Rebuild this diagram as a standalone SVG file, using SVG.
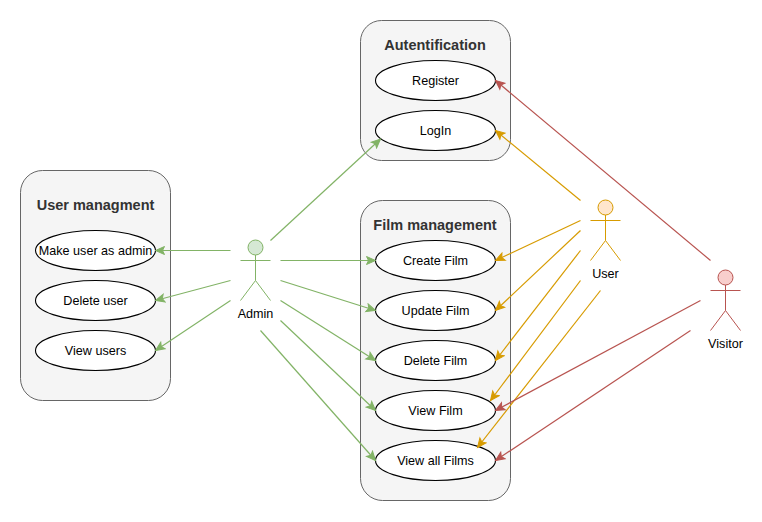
<svg xmlns="http://www.w3.org/2000/svg" width="762" height="522" viewBox="0 0 762 522">
<defs>
<marker id="ag" markerUnits="userSpaceOnUse" markerWidth="13" markerHeight="11" refX="10" refY="5.5" orient="auto"><path d="M1 1.5L10 5.5L1 9.5L3 5.5Z" fill="#82b366" stroke="#82b366"/></marker>
<marker id="ao" markerUnits="userSpaceOnUse" markerWidth="13" markerHeight="11" refX="10" refY="5.5" orient="auto"><path d="M1 1.5L10 5.5L1 9.5L3 5.5Z" fill="#d79b00" stroke="#d79b00"/></marker>
<marker id="ar" markerUnits="userSpaceOnUse" markerWidth="13" markerHeight="11" refX="10" refY="5.5" orient="auto"><path d="M1 1.5L10 5.5L1 9.5L3 5.5Z" fill="#b85450" stroke="#b85450"/></marker>
</defs>
<style>
text{font-family:"Liberation Sans",Arial,Helvetica,sans-serif;text-anchor:middle;fill:#000;font-size:12.6px}
.box{fill:#f5f5f5;stroke:#666666;stroke-width:1}
text.title{font-size:14.5px;font-weight:bold;fill:#333333}
.uc{fill:#ffffff;stroke:#000000;stroke-width:1.1}
.e{fill:none;stroke-width:1.2}
.g{stroke:#82b366;marker-end:url(#ag)}
.o{stroke:#d79b00;marker-end:url(#ao)}
.r{stroke:#b85450;marker-end:url(#ar)}
.ag{fill:none;stroke:#82b366}.ag circle{fill:#d5e8d4}
.ao{fill:none;stroke:#d79b00}.ao circle{fill:#ffe6cc}
.ar{fill:none;stroke:#b85450}.ar circle{fill:#f8cecc}
</style>
<g id="user-managment"><rect class="box" x="20.5" y="170.5" width="150" height="230" rx="22" ry="22"/><text class="title" x="95.5" y="210">User managment</text></g>
<g id="autentification"><rect class="box" x="360.5" y="20.5" width="150" height="140" rx="21" ry="21"/><text class="title" x="435" y="50">Autentification</text></g>
<g id="film-management"><rect class="box" x="360.5" y="200.5" width="150" height="300" rx="22" ry="22"/><text class="title" x="435" y="230">Film management</text></g>
<g id="make-admin"><ellipse class="uc" cx="95.5" cy="250.5" rx="60" ry="20"/><text x="95.5" y="254.5">Make user as admin</text></g>
<g id="delete-user"><ellipse class="uc" cx="95.5" cy="300.5" rx="60" ry="20"/><text x="95.5" y="304.5">Delete user</text></g>
<g id="view-users"><ellipse class="uc" cx="95.5" cy="350.5" rx="60" ry="20"/><text x="95.5" y="354.5">View users</text></g>
<g id="register"><ellipse class="uc" cx="435.5" cy="80.5" rx="60" ry="20"/><text x="435.5" y="84.5">Register</text></g>
<g id="login"><ellipse class="uc" cx="435.5" cy="130.5" rx="60" ry="20"/><text x="435.5" y="134.5">LogIn</text></g>
<g id="create-film"><ellipse class="uc" cx="435.5" cy="260.5" rx="60" ry="20"/><text x="435.5" y="264.5">Create Film</text></g>
<g id="update-film"><ellipse class="uc" cx="435.5" cy="310.5" rx="60" ry="20"/><text x="435.5" y="314.5">Update Film</text></g>
<g id="delete-film"><ellipse class="uc" cx="435.5" cy="360.5" rx="60" ry="20"/><text x="435.5" y="364.5">Delete Film</text></g>
<g id="view-film"><ellipse class="uc" cx="435.5" cy="410.5" rx="60" ry="20"/><text x="435.5" y="414.5">View Film</text></g>
<g id="view-all-films"><ellipse class="uc" cx="435.5" cy="460.5" rx="60" ry="20"/><text x="435.5" y="464.5">View all Films</text></g>
<g id="admin"><g class="ag"><circle cx="255.5" cy="247.5" r="7.5"/><path d="M255.5 255V280.5M240.5 260.5H270.5M255.5 280.5L240.5 300.5M255.5 280.5L270.5 300.5"/></g><text x="255.5" y="318">Admin</text></g>
<g id="user"><g class="ao"><circle cx="605.5" cy="207.5" r="7.5"/><path d="M605.5 215V240.5M590.5 220.5H620.5M605.5 240.5L590.5 260.5M605.5 240.5L620.5 260.5"/></g><text x="605.5" y="278">User</text></g>
<g id="visitor"><g class="ar"><circle cx="725.5" cy="277.5" r="7.5"/><path d="M725.5 285V310.5M710.5 290.5H740.5M725.5 310.5L710.5 330.5M725.5 310.5L740.5 330.5"/></g><text x="725.5" y="348">Visitor</text></g>
<g id="connectors">
<path class="e g" d="M230.5 250.5L155.5 250.5"/>
<path class="e g" d="M230.5 280.5L155.5 300.5"/>
<path class="e g" d="M230.5 300.5L155.5 350.5"/>
<path class="e g" d="M270.5 240.5L380.5 139"/>
<path class="e g" d="M280.5 260.5L375.5 260.5"/>
<path class="e g" d="M280.5 280.5L375.5 310.5"/>
<path class="e g" d="M280.5 300.5L375.5 360.5"/>
<path class="e g" d="M280.5 320.5L375.5 410.5"/>
<path class="e g" d="M260.5 330.5L375.5 460.5"/>
<path class="e o" d="M580.5 200.5L495.5 130.5"/>
<path class="e o" d="M580.5 220.5L495.5 260.5"/>
<path class="e o" d="M580.5 230.5L495.5 310.5"/>
<path class="e o" d="M580.5 250.5L495.5 360.5"/>
<path class="e o" d="M580.5 280.5L490.5 400.5"/>
<path class="e o" d="M600.5 290.5L477.5 447.5"/>
<path class="e r" d="M710.5 260.5L495.5 80.5"/>
<path class="e r" d="M700.5 300.5L495.5 410.5"/>
<path class="e r" d="M690.5 330.5L495.5 460.5"/>
</g>
</svg>
